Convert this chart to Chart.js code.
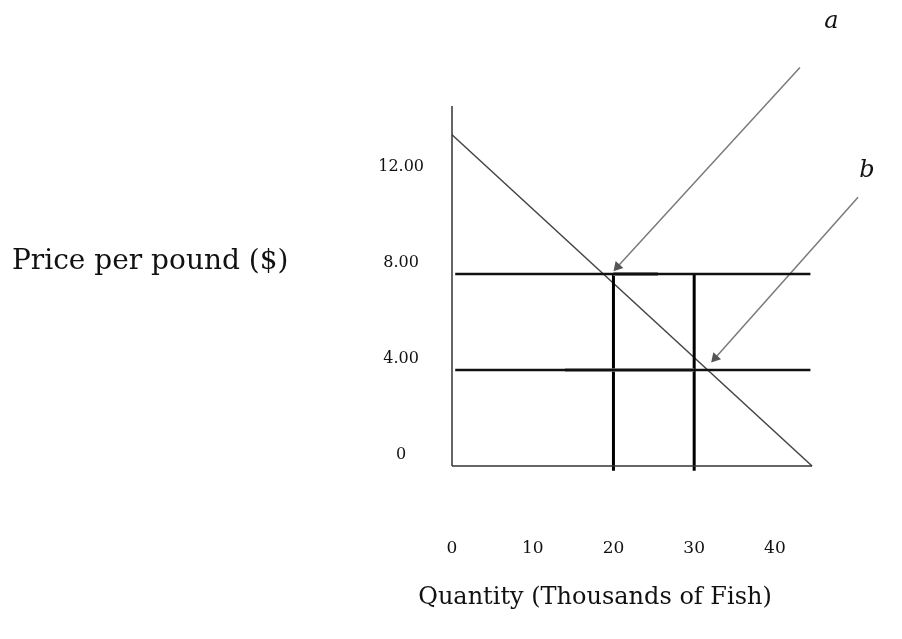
<!DOCTYPE html>
<html>
<head>
<meta charset="utf-8">
<script src="https://cdn.jsdelivr.net/npm/chart.js@4.4.0/dist/chart.umd.min.js"></script>
<style>
  html, body { margin: 0; padding: 0; background: #fff; }
  #wrap { width: 902px; height: 639px; }
</style>
</head>
<body>
<div id="wrap"><canvas id="fish"></canvas></div>
<script>
// axis ticks
var quantityTicks = [0, 10, 20, 30, 40];
var priceTicks = [0, 4, 8, 12];
var priceTickLabels = ['0', '4.00', '8.00', '12.00'];

// demand line (quantity, price)
var demandQ = [0, 44.6];
var demandP = [13.8, 0];

// horizontal price lines and vertical quantity lines
var priceLevels = [8, 4];
var priceLineQ = [0.4, 44.4];
var quantityLevels = [20, 30];
var quantityLineP = [8, -0.2];

// faded (grey) stretches on the price lines
var fadedQ8 = [20, 25.5];
var fadedQ4 = [14, 30];

// axis lines
var yAxisP = [0, 15];
var xAxisQ = [0, 44.6];

// arrows a and b (start -> tip)
var arrowAQ = [43.1, 20.5];
var arrowAP = [16.6, 8.3];
var arrowBQ = [50.3, 32.6];
var arrowBP = [11.2, 4.5];

var serif = "'DejaVu Serif', serif";

function pts(xs, ys) {
  var out = [];
  for (var i = 0; i < xs.length; i++) out.push({x: xs[i], y: ys[i]});
  return out;
}

function lineSet(data, color, width) {
  return {
    data: data,
    showLine: true,
    borderColor: color,
    borderWidth: width,
    pointRadius: 0,
    clip: false
  };
}

var datasets = [];
datasets.push(lineSet(pts([0, 0], yAxisP), '#333', 1.5));
datasets.push(lineSet(pts(xAxisQ, [0, 0]), '#333', 1.5));
priceLevels.forEach(function (p) {
  datasets.push(lineSet(pts(priceLineQ, [p, p]), '#111', 2.5));
});
datasets.push(lineSet(pts(fadedQ8, [8, 8]), '#8f8f8f', 4));
datasets.push(lineSet(pts(fadedQ4, [4, 4]), '#8f8f8f', 3.5));
quantityLevels.forEach(function (q) {
  datasets.push(lineSet(pts([q, q], quantityLineP), '#000', 3));
});
datasets.push(lineSet(pts(demandQ, demandP), '#444', 1.5));

function arrowSet(xs, ys) {
  var ds = lineSet(pts(xs, ys), '#7a7a7a', 1.5);
  ds.pointRadius = [0, 4.5];
  ds.pointStyle = 'triangle';
  ds.pointRotation = 222;
  ds.pointBackgroundColor = '#555';
  ds.pointBorderColor = '#555';
  return ds;
}
datasets.push(arrowSet(arrowAQ, arrowAP));
datasets.push(arrowSet(arrowBQ, arrowBP));

// free text: axis titles and the a / b labels
var textPlugin = {
  id: 'texts',
  afterDraw: function (chart) {
    var ctx = chart.ctx;
    var xs = chart.scales.x, ys = chart.scales.y;
    ctx.save();
    ctx.fillStyle = '#111';
    ctx.textBaseline = 'middle';
    ctx.font = '28px ' + serif;
    ctx.textAlign = 'left';
    ctx.fillText('Price per pound ($)', 12, 262);
    ctx.font = '24px ' + serif;
    ctx.textAlign = 'center';
    ctx.fillText('Quantity (Thousands of Fish)', 595, 598);
    ctx.font = 'italic 24px ' + serif;
    ctx.fillText('a', xs.getPixelForValue(47), ys.getPixelForValue(18.5));
    ctx.fillText('b', xs.getPixelForValue(51.4), ys.getPixelForValue(12.3));
    ctx.restore();
  }
};

new Chart(document.getElementById('fish'), {
  type: 'scatter',
  data: { datasets: datasets },
  plugins: [textPlugin],
  options: {
    responsive: true,
    maintainAspectRatio: false,
    animation: false,
    layout: { padding: { left: 0, right: 6, top: 10, bottom: 0 } },
    plugins: { legend: { display: false }, tooltip: { enabled: false } },
    scales: {
      x: {
        type: 'linear',
        min: 0,
        max: 55,
        grid: { display: false, drawTicks: false },
        border: { display: false },
        afterBuildTicks: function (scale) {
          scale.ticks = quantityTicks.map(function (v) { return {value: v}; });
        },
        afterFit: function (scale) {
          scale.height = 173;
          scale.paddingLeft = 0;
          scale.paddingRight = 0;
        },
        ticks: {
          padding: 72,
          color: '#111',
          font: { family: serif, size: 17 },
          maxRotation: 0,
          autoSkip: false
        }
      },
      y: {
        type: 'linear',
        min: 0,
        max: 19,
        grid: { display: false, drawTicks: false },
        border: { display: false },
        afterBuildTicks: function (scale) {
          scale.ticks = priceTicks.map(function (v) { return {value: v}; });
        },
        afterFit: function (scale) {
          scale.width = 452;
          scale.paddingTop = 0;
          scale.paddingBottom = 0;
        },
        ticks: {
          padding: 28,
          crossAlign: 'center',
          labelOffset: -11,
          color: '#111',
          font: { family: serif, size: 16 },
          autoSkip: false,
          callback: function (v) {
            var i = priceTicks.indexOf(v);
            return i >= 0 ? priceTickLabels[i] : '';
          }
        }
      }
    }
  }
});
</script>
</body>
</html>
